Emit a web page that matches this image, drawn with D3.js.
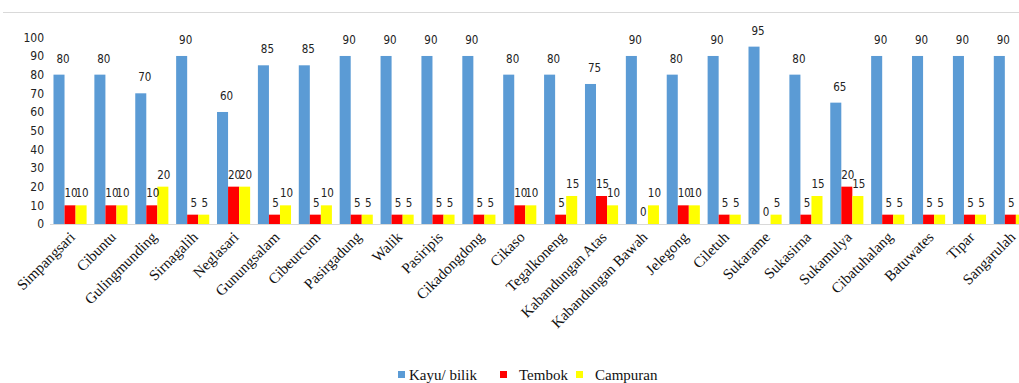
<!DOCTYPE html>
<html>
<head>
<meta charset="utf-8">
<script src="https://cdn.jsdelivr.net/npm/d3@7"></script>
<style>
  body { margin: 0; background: #fff; }
  svg { display: block; }
  .serif { font-family: "Liberation Serif", "Times New Roman", "DejaVu Serif", serif; }
  .num { font-family: "Liberation Sans Narrow", "DejaVu Sans Condensed", "Liberation Sans", sans-serif; }
</style>
</head>
<body>
<div id="chart"></div>
<script>
// desa names
const categories = ["Simpangsari", "Cibuntu", "Gulingmunding", "Sirnagalih", "Neglasari",
  "Gunungsalam", "Cibeurcum", "Pasirgadung", "Walik", "Pasiripis", "Cikadongdong", "Cikaso",
  "Tegalkoneng", "Kabandungan Atas", "Kabandungan Bawah", "Jelegong", "Ciletuh", "Sukarame",
  "Sukasirna", "Sukamulya", "Cibatuhalang", "Batuwates", "Tipar", "Sangarulah"];

const kayu = [80, 80, 70, 90, 60, 85, 85, 90, 90, 90, 90, 80, 80, 75, 90, 80, 90, 95, 80, 65, 90, 90, 90, 90];
const tembok = [10, 10, 10, 5, 20, 5, 5, 5, 5, 5, 5, 10, 5, 15, 0, 10, 5, 0, 5, 20, 5, 5, 5, 5];
const campuran = [10, 10, 20, 5, 20, 10, 10, 5, 5, 5, 5, 10, 15, 10, 10, 10, 5, 5, 15, 15, 5, 5, 5, 5];

const seriesNames = ["Kayu/ bilik", "Tembok", "Campuran"];
const seriesColors = ["#5B9BD5", "#FF0000", "#FFFF00"];
const yTicks = [0, 10, 20, 30, 40, 50, 60, 70, 80, 90, 100];

const width = 1019;
const height = 383;

const svg = d3
  .select("#chart")
  .append("svg")
  .attr("width", width)
  .attr("height", height);

// top border line
svg.append("line")
  .attr("x1", 3).attr("x2", width)
  .attr("y1", 12.5).attr("y2", 12.5)
  .attr("stroke", "#d9d9d9");

// scales
const x0 = d3.scaleBand()
  .domain(categories)
  .range([49.4, 49.4 + 40.9 * categories.length])
  .paddingInner(0.19)
  .paddingOuter(0.1);

const x1 = d3.scaleBand()
  .domain(seriesNames)
  .range([0, x0.bandwidth()]);

const y = d3.scaleLinear()
  .domain([0, 100])
  .range([224, 37.3]);

// y tick labels (no axis line)
svg.append("g")
  .selectAll("text")
  .data(yTicks)
  .enter()
  .append("text")
  .attr("class", "num")
  .attr("x", 44)
  .attr("y", (d) => y(d))
  .attr("dy", "0.35em")
  .attr("text-anchor", "end")
  .attr("font-size", 12)
  .attr("fill", "#222")
  .text((d) => d);

// baseline
svg.append("line")
  .attr("x1", 50).attr("x2", width)
  .attr("y1", y(0) + 0.5).attr("y2", y(0) + 0.5)
  .attr("stroke", "#d9d9d9");

const rows = categories.map((c, i) => ({
  cat: c,
  vals: [kayu[i], tembok[i], campuran[i]]
}));

const groups = svg.append("g")
  .selectAll("g")
  .data(rows)
  .enter()
  .append("g")
  .attr("transform", (d) => `translate(${x0(d.cat)},0)`);

// bars
groups.selectAll("rect")
  .data((d) => d.vals.map((v, k) => ({ name: seriesNames[k], v: v, k: k })))
  .enter()
  .append("rect")
  .attr("x", (d) => x1(d.name))
  .attr("y", (d) => y(d.v))
  .attr("width", x1.bandwidth())
  .attr("height", (d) => y(0) - y(d.v))
  .attr("fill", (d) => seriesColors[d.k]);

// value labels
groups.selectAll("text")
  .data((d) => d.vals.map((v, k) => ({ name: seriesNames[k], v: v, k: k })))
  .enter()
  .append("text")
  .attr("class", "num")
  .attr("x", (d) => x1(d.name) + x1.bandwidth() / 2 + (d.k === 0 ? 4 : 1))
  .attr("y", (d) => y(d.v) - (d.k === 0 ? 12 : 8))
  .attr("text-anchor", "middle")
  .attr("font-size", 11.5)
  .attr("fill", "#222")
  .text((d) => d.v);

// category labels, rotated
svg.append("g")
  .selectAll("text")
  .data(categories)
  .enter()
  .append("text")
  .attr("class", "serif")
  .attr("transform", (d) => `translate(${x0(d) + x0.bandwidth() / 2 + 6},${238}) rotate(-45)`)
  .attr("text-anchor", "end")
  .attr("font-size", 15)
  .attr("fill", "#111")
  .text((d) => d);

// legend
const legendX = [398, 500, 576];
const legend = svg.append("g")
  .selectAll("g")
  .data(seriesNames)
  .enter()
  .append("g")
  .attr("transform", (d, i) => `translate(${legendX[i]},372)`);

legend.append("rect")
  .attr("x", 0).attr("y", -1)
  .attr("width", 7).attr("height", 7)
  .attr("fill", (d, i) => seriesColors[i]);

legend.append("text")
  .attr("class", "serif")
  .attr("x", (d, i) => (i === 0 ? 11 : 19))
  .attr("y", 8)
  .attr("font-size", 15)
  .attr("fill", "#111")
  .text((d) => d);
</script>
</body>
</html>
